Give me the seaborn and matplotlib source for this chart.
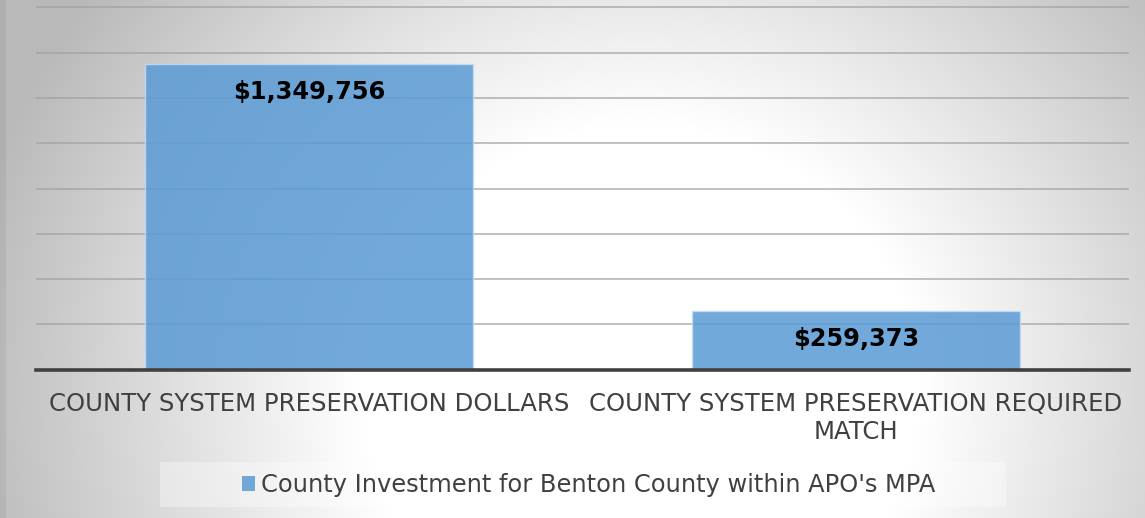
import numpy as np
import pandas as pd
import matplotlib
matplotlib.use("Agg")
import matplotlib.pyplot as plt
import seaborn as sns
from matplotlib.patches import Rectangle
import textwrap

# ---- data ----
categories = ["COUNTY SYSTEM PRESERVATION DOLLARS",
              "COUNTY SYSTEM PRESERVATION REQUIRED MATCH"]
values = [1349756, 259373]
value_labels = ["$1,349,756", "$259,373"]
series_name = "County Investment for Benton County within APO's MPA"
y_ticks = [0, 200000, 400000, 600000, 800000, 1000000, 1200000, 1400000, 1600000]

df = pd.DataFrame({"category": categories, "value": values})

sns.set_theme(style="white")
plt.rcParams["font.family"] = ["DejaVu Sans"]

W, H = 1145, 518
fig = plt.figure(figsize=(W / 100, H / 100), dpi=100)

# ---- background radial gradient ----
bg = fig.add_axes([0, 0, 1, 1], zorder=-10)
yy, xx = np.mgrid[0:H, 0:W]
r = np.sqrt((xx - 640) ** 2 + ((yy - 390) / 0.95) ** 2)
g = 255 - 0.17 * np.clip(r - 280, 0, None)
g = np.clip(g, 185, 255)
img = np.dstack([g, g, g]).astype(np.uint8)
img[:, 0:6, :] = (img[:, 0:6, :] * 0.95).astype(np.uint8)
bg.imshow(img, aspect="auto", extent=[0, W, H, 0])
bg.set_axis_off()

# ---- main axes ----
top_px, bot_px = 4.0, 369.7
ymax = 1600000 * (bot_px - top_px) / (bot_px - 7.3)
ax = fig.add_axes([36 / W, 1 - bot_px / H, 1093 / W, (bot_px - top_px) / H])
ax.set_facecolor("none")

sns.barplot(data=df, x="category", y="value", color="#5B9BD5", saturation=1,
            width=0.6, ax=ax, alpha=0.86, edgecolor="#c5dcf2", linewidth=1.0,
            zorder=3)

ax.set_xlim(-0.5, 1.5)
ax.set_ylim(0, ymax)
ax.set_yticks(y_ticks)
ax.set_yticklabels([])
ax.tick_params(axis="y", length=0)
ax.tick_params(axis="x", length=0, pad=16)
ax.grid(axis="y", color="#a0a0a0", linewidth=1.4, alpha=0.65, zorder=1)
ax.set_axisbelow(True)
for s in ["left", "right", "top"]:
    ax.spines[s].set_visible(False)
ax.spines["bottom"].set_color("#404040")
ax.spines["bottom"].set_linewidth(2.6)
ax.spines["bottom"].set_zorder(5)

ax.set_xlabel("")
ax.set_ylabel("")
wrapped = [textwrap.fill(c, 36) for c in categories]
ax.set_xticks(range(len(categories)))
ax.set_xticklabels(wrapped, fontsize=17.6, color="#404040", linespacing=1.2)

for i, (v, lab) in enumerate(zip(values, value_labels)):
    ax.annotate(lab, xy=(i, v), xytext=(0, -28), textcoords="offset pixels",
                ha="center", va="center", fontsize=17.4, fontweight="bold",
                color="black", zorder=6)

# ---- legend ----
fig.patches.append(Rectangle((160 / W, 1 - 507 / H), 846 / W, 45 / H,
                             transform=fig.transFigure, facecolor="white",
                             alpha=0.35, edgecolor="none", zorder=-5))
handle = Rectangle((0, 0), 1, 1, facecolor="#5B9BD5", alpha=0.86, edgecolor="none")
fig.legend([handle], [series_name], loc="center",
           bbox_to_anchor=(589 / W, 1 - 485 / H), frameon=False,
           fontsize=17.4, labelcolor="#404040", handlelength=0.55,
           handleheight=0.55, handletextpad=0.25)

fig.savefig("out.png", dpi=100)
